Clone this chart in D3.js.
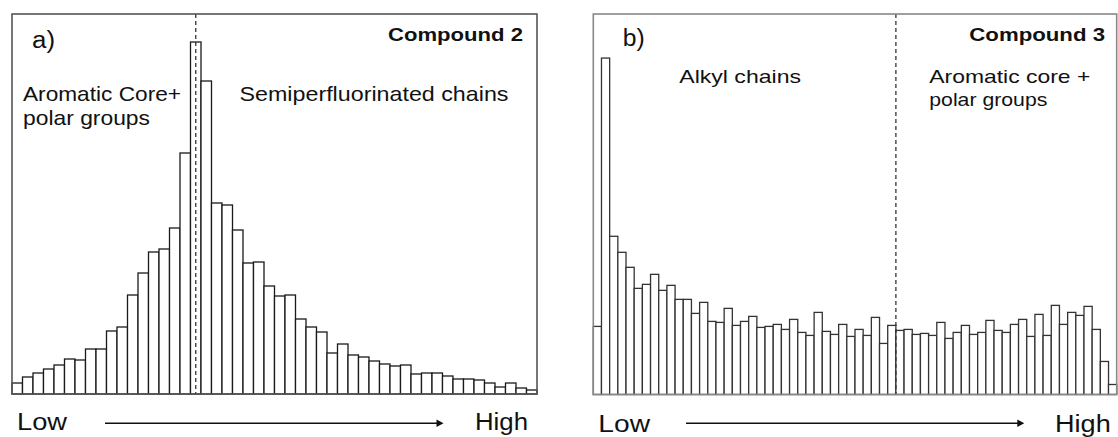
<!DOCTYPE html>
<meta charset="utf-8">
<script src="https://cdn.jsdelivr.net/npm/d3@7"></script>
<style>
  body { margin: 0; background: #fff; }
  text { font-family: "Liberation Sans", Arial, sans-serif; fill: #111; }
  .bar { fill: #fff; stroke: #1a1a1a; stroke-width: 1.3px; }
  .frame { fill: none; stroke-width: 1.6px; }
  .divider { stroke: #333; stroke-width: 1.3px; stroke-dasharray: 4 3; }
</style>
<div id="chart"></div>
<script>

// histogram counts (arbitrary units), one value per bin
const countsA = [11, 17, 21, 25, 29, 35, 34, 45, 45, 63, 67, 99, 121, 142, 145, 166, 241, 352, 313, 191,
                 189, 164, 131, 132, 108, 98, 99, 75, 67, 62, 41, 50, 39, 37, 33, 30, 28, 29, 20, 21,
                 21, 18, 15, 15, 14, 11, 7, 11, 6, 4];
const countsB = [68, 336, 158, 142, 127, 106, 110, 120, 104, 109, 95, 95, 81, 92, 73, 72, 86, 69, 73, 78,
                 67, 68, 70, 65, 75, 62, 59, 82, 63, 60, 70, 58, 65, 59, 77, 51, 69, 64, 65, 60,
                 61, 59, 72, 56, 62, 69, 60, 62, 74, 64, 62, 70, 75, 58, 80, 59, 89, 70, 82, 79,
                 88, 65, 33, 10];

// position of the dashed separator, in bin units
const dividerA = 17.5;
const dividerB = 37;

const panelLabels = ["a)", "b)"];
const compoundNames = ["Compound 2", "Compound 3"];
const axisEnds = ["Low", "High"];
const regionsA = [["Aromatic Core+", "polar groups"], ["Semiperfluorinated chains"]];
const regionsB = [["Alkyl chains"], ["Aromatic core +", "polar groups"]];

const svg = d3.select("#chart").append("svg")
    .attr("width", 1118)
    .attr("height", 437);

// helper: text squeezed/stretched to the width measured on the figure
function label(g, str, x, y, size, width, bold) {
  g.append("text")
    .attr("x", x)
    .attr("y", y)
    .attr("font-size", size)
    .attr("font-weight", bold ? "bold" : "normal")
    .attr("textLength", width)
    .attr("lengthAdjust", "spacingAndGlyphs")
    .text(str);
}

function drawPanel(p) {
  const g = svg.append("g");
  const n = p.counts.length;

  const x = d3.scaleLinear().domain([0, n]).range([p.left, p.right]);
  const y = d3.scaleLinear().domain([0, 380]).range([p.bottom, p.top]);

  g.selectAll(".bar")
    .data(p.counts)
    .join("rect")
      .attr("class", "bar")
      .attr("x", (d, i) => x(i))
      .attr("width", (d, i) => x(i + 1) - x(i))
      .attr("y", d => y(d))
      .attr("height", d => y(0) - y(d))
      .style("stroke", p.barColor);

  g.append("line")
    .attr("class", "divider")
    .attr("x1", x(p.divider)).attr("x2", x(p.divider))
    .attr("y1", p.top).attr("y2", y(0));

  g.append("rect")
    .attr("class", "frame")
    .attr("x", p.left).attr("y", p.top)
    .attr("width", p.right - p.left)
    .attr("height", p.bottom - p.top)
    .style("stroke", p.frameColor);

  // texts inside the frame
  label(g, p.tag, p.tagPos[0], p.tagPos[1], 23, p.tagPos[2]);
  label(g, p.name, p.namePos[0], p.namePos[1], 19, p.namePos[2], true);
  p.regions.forEach((lines, r) => {
    const pos = p.regionPos[r];
    lines.forEach((s, k) => {
      label(g, s, pos.x, pos.y + k * pos.dy, p.regionSize, pos.w[k]);
    });
  });

  // Low ---> High under the frame
  label(g, axisEnds[0], p.lowPos[0], p.axisY, 23, p.lowPos[1]);
  label(g, axisEnds[1], p.highPos[0], p.axisY, 23, p.highPos[1]);
  g.append("line")
    .attr("x1", p.arrow[0]).attr("x2", p.arrow[1] - 6)
    .attr("y1", 423.3).attr("y2", 423.3)
    .attr("stroke", "#111").attr("stroke-width", 1.5);
  g.append("path")
    .attr("d", d3.line()([[p.arrow[1] - 7, 419.5], [p.arrow[1], 423.3], [p.arrow[1] - 7, 427.1]]))
    .attr("fill", "#111");
}

drawPanel({
  counts: countsA, divider: dividerA,
  left: 12, right: 537, top: 14, bottom: 394,
  barColor: "#1a1a1a", frameColor: "#555",
  tag: panelLabels[0], tagPos: [32, 48, 23],
  name: compoundNames[0], namePos: [388, 41, 135],
  regions: regionsA, regionSize: 21,
  regionPos: [{x: 23, y: 101, dy: 24, w: [158, 127]}, {x: 239.5, y: 101, dy: 24, w: [269]}],
  lowPos: [17, 50], highPos: [475, 53], axisY: 430, arrow: [105, 443.5]
});

drawPanel({
  counts: countsB, divider: dividerB,
  left: 593.3, right: 1116.7, top: 14, bottom: 394.5,
  barColor: "#333", frameColor: "#888",
  tag: panelLabels[1], tagPos: [622.7, 46, 22],
  name: compoundNames[1], namePos: [969.3, 40.7, 135.7],
  regions: regionsB, regionSize: 19,
  regionPos: [{x: 679.3, y: 83.3, dy: 23, w: [121.7]}, {x: 929.3, y: 83.3, dy: 23, w: [161, 118]}],
  lowPos: [598.3, 51.7], highPos: [1055, 55.7], axisY: 431.5, arrow: [686, 1024.3]
});

</script>
